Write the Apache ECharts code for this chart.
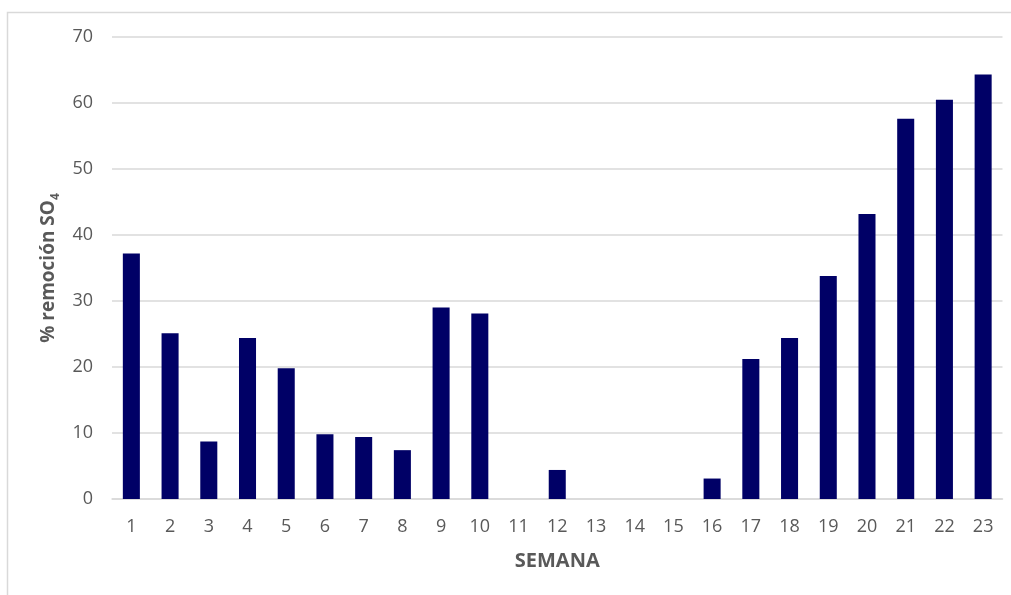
<!DOCTYPE html>
<html>
<head>
<meta charset="utf-8">
<script src="https://cdn.jsdelivr.net/npm/echarts@6/dist/echarts.min.js"></script>
<style>
  html, body { margin: 0; padding: 0; background: #ffffff; }
  #chart { width: 1011px; height: 595px; }
</style>
</head>
<body>
<div id="chart"></div>
<script>
// Weekly sulphate removal (%)
const semanas = ['1','2','3','4','5','6','7','8','9','10','11','12','13','14','15','16','17','18','19','20','21','22','23'];
const remocion = [37.2, 25.1, 8.7, 24.4, 19.8, 9.8, 9.4, 7.4, 29.0, 28.1, 0, 4.4, 0, 0, 0, 3.1, 21.2, 24.4, 33.8, 43.2, 57.6, 60.5, 64.3];
const yTicks = { min: 0, max: 70, interval: 10 };

const labelColor = '#595959';
const gridColor = '#d9d9d9';
const fontFamily = '"Open Sans", "Noto Sans", sans-serif';

const chart = echarts.init(document.getElementById('chart'), null, { renderer: 'canvas' });

chart.setOption({
  backgroundColor: '#ffffff',
  animation: false,
  graphic: [{
    type: 'rect',
    shape: { x: 7.5, y: 12.5, width: 1100, height: 700 },
    style: { fill: 'none', stroke: gridColor, lineWidth: 1.5 },
    silent: true
  }],
  grid: { left: 112, right: 8.5, top: 37, bottom: 96 },
  xAxis: {
    type: 'category',
    data: semanas,
    name: 'SEMANA',
    nameLocation: 'middle',
    nameGap: 52,
    nameTextStyle: { color: labelColor, fontSize: 20, fontWeight: 'bold', fontFamily: fontFamily },
    axisLine: { show: true, lineStyle: { color: gridColor, width: 1.5 } },
    axisTick: { show: false },
    axisLabel: { color: labelColor, fontSize: 18, fontFamily: fontFamily, margin: 19 }
  },
  yAxis: {
    type: 'value',
    min: yTicks.min,
    max: yTicks.max,
    interval: yTicks.interval,
    name: '{a|% remoción SO}{b|4}',
    nameLocation: 'middle',
    nameGap: 47,
    nameTextStyle: {
      rich: {
        a: { color: labelColor, fontSize: 19, fontWeight: 'bold', fontFamily: fontFamily, lineHeight: 26, verticalAlign: 'middle' },
        b: { color: labelColor, fontSize: 12, fontWeight: 'bold', fontFamily: fontFamily, lineHeight: 26, verticalAlign: 'bottom' }
      }
    },
    axisLine: { show: false },
    axisTick: { show: false },
    axisLabel: { color: labelColor, fontSize: 18, fontFamily: fontFamily, margin: 19 },
    splitLine: { lineStyle: { color: gridColor, width: 1.5 } }
  },
  series: [{
    type: 'bar',
    data: remocion,
    barWidth: '44%',
    itemStyle: { color: '#000066' }
  }]
});
</script>
</body>
</html>
